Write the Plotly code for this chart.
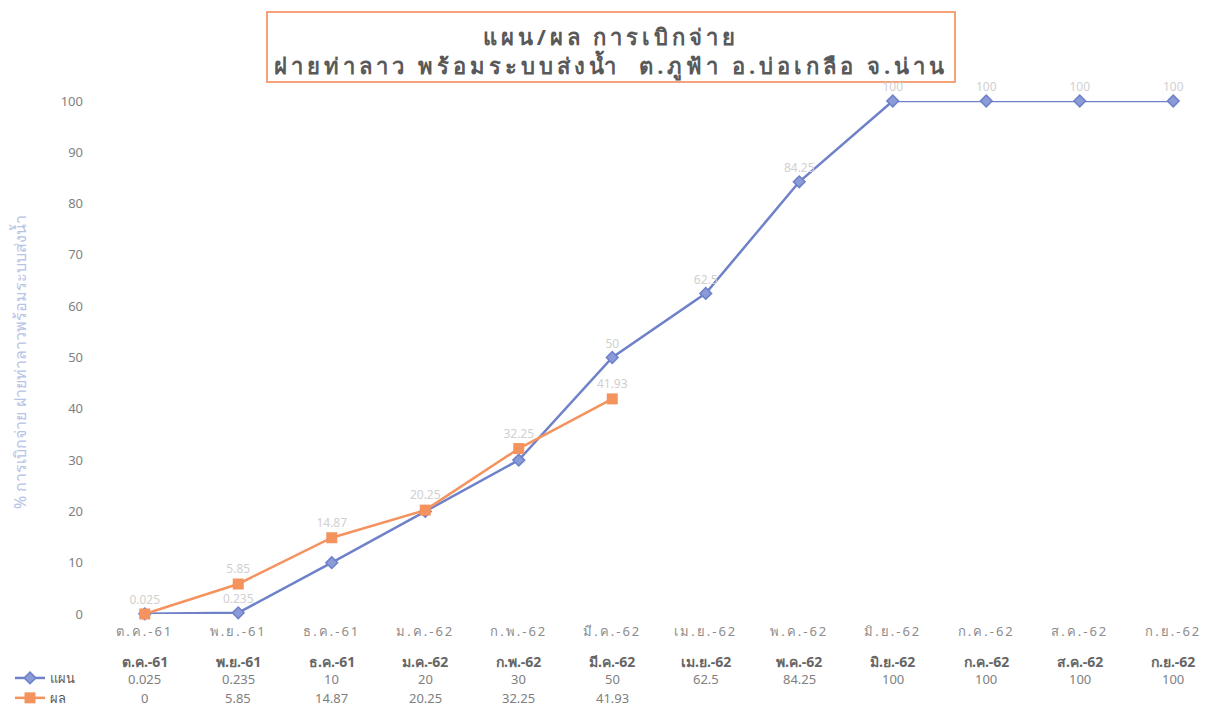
import plotly.graph_objects as go

categories = ['ต.ค.-61', 'พ.ย.-61', 'ธ.ค.-61', 'ม.ค.-62', 'ก.พ.-62', 'มี.ค.-62',
              'เม.ย.-62', 'พ.ค.-62', 'มิ.ย.-62', 'ก.ค.-62', 'ส.ค.-62', 'ก.ย.-62']
plan = [0.025, 0.235, 10, 20, 30, 50, 62.5, 84.25, 100, 100, 100, 100]
result = [0, 5.85, 14.87, 20.25, 32.25, 41.93]
plan_name = 'แผน'
result_name = 'ผล'
title_line1 = 'แผน/ผล การเบิกจ่าย'
title_line2 = 'ฝายท่าลาว พร้อมระบบส่งน้ำ  ต.ภูฟ้า อ.บ่อเกลือ จ.น่าน'
y_title = '% การเบิกจ่าย ฝายท่าลาวพร้อมระบบส่งน้ำ'
y_ticks = list(range(0, 101, 10))

OFF = 8  # page body margin
W, H = 1226, 714
ML = 98 - OFF
MR = W - (1220 - OFF)
MT = 101 - OFF
MB = H - (614 - OFF)
PW = W - ML - MR
PH = H - MT - MB

def py(p):
    return (H - MB - (p - OFF)) / PH

def px(p):
    return ((p - OFF) - ML) / PW

FONT = 'Noto Sans, DejaVu Sans, sans-serif'
BLUE = '#6E81C9'
ORANGE = '#F4935E'

def fmt(v):
    return ('%g' % v)

x_idx = list(range(len(categories)))

fig = go.Figure()
plan_text = [fmt(v) if v not in (10, 20, 30) else '' for v in plan]
result_text = [fmt(v) if v != 0 else '' for v in result]
fig.add_trace(go.Scatter(
    x=x_idx, y=plan, name=plan_name, mode='lines+markers+text',
    line=dict(color=BLUE, width=2.5),
    marker=dict(symbol='diamond', size=9, color='#8A9BD8', line=dict(color=BLUE, width=1.5)),
    text=plan_text, textposition='top center',
    textfont=dict(color='#d0d0d0', size=12, family=FONT),
    cliponaxis=False,
))
fig.add_trace(go.Scatter(
    x=x_idx[:len(result)], y=result, name=result_name, mode='lines+markers+text',
    line=dict(color=ORANGE, width=2.5),
    marker=dict(symbol='square', size=11, color=ORANGE),
    text=result_text, textposition='top center',
    textfont=dict(color='#d0d0d0', size=12, family=FONT),
    cliponaxis=False,
))

SP = '<span style="letter-spacing:4px">'
SPX = '<span style="letter-spacing:2px">'
annotations = []
# title
annotations.append(dict(
    xref='paper', yref='paper', x=px(611), y=py(51), xanchor='center', yanchor='middle',
    text=SP + '<b>' + title_line1 + '</b></span><br>' + SP + '<b>' + title_line2 + '</b></span>',
    showarrow=False, font=dict(size=22, color='#595959', family=FONT), align='center'))
# y axis title
annotations.append(dict(
    xref='paper', yref='paper', x=px(20), y=py(362), xanchor='center', yanchor='middle',
    text=y_title, textangle=-90, showarrow=False,
    font=dict(size=16, color='#B7C3E6', family=FONT)))
# data table
for i, c in enumerate(categories):
    annotations.append(dict(xref='x', yref='paper', x=i, y=py(661), yanchor='middle',
                            text='<b>' + c + '</b>',
                            showarrow=False, font=dict(size=14, color='#666666', family=FONT)))
    annotations.append(dict(xref='x', yref='paper', x=i, y=py(679), yanchor='middle',
                            text=fmt(plan[i]),
                            showarrow=False, font=dict(size=13, color='#808080', family=FONT)))
    if i < len(result):
        annotations.append(dict(xref='x', yref='paper', x=i, y=py(698), yanchor='middle',
                                text=fmt(result[i]),
                                showarrow=False, font=dict(size=13, color='#808080', family=FONT)))

shapes = [dict(type='rect', xref='paper', yref='paper',
               x0=px(267), x1=px(955), y0=py(82), y1=py(12),
               line=dict(color='#F4A27A', width=2), fillcolor='rgba(0,0,0,0)', layer='below')]

fig.update_layout(
    width=W, height=H,
    margin=dict(l=ML, r=MR, t=MT, b=MB, autoexpand=False),
    paper_bgcolor='white', plot_bgcolor='white',
    font=dict(family=FONT),
    annotations=annotations,
    shapes=shapes,
    showlegend=True,
    legend=dict(x=px(10), y=py(663), xanchor='left', yanchor='top',
                font=dict(size=13, color='#595959', family=FONT),
                bgcolor='rgba(0,0,0,0)', tracegroupgap=0, itemwidth=30),
    xaxis=dict(tickmode='array', tickvals=x_idx, ticktext=[SPX + c + '</span>' for c in categories],
               range=[-0.5, 11.5],
               showgrid=False, zeroline=False, showline=False, ticks='', ticklabelstandoff=8,
               tickfont=dict(size=13, color='#8c8c8c', family=FONT)),
    yaxis=dict(range=[0, 100], tickvals=y_ticks, showgrid=False, zeroline=False,
               showline=False, ticks='', ticklabelstandoff=14,
               tickfont=dict(size=13, color='#7f7f7f', family=FONT)),
)

fig.write_html('out.html')
